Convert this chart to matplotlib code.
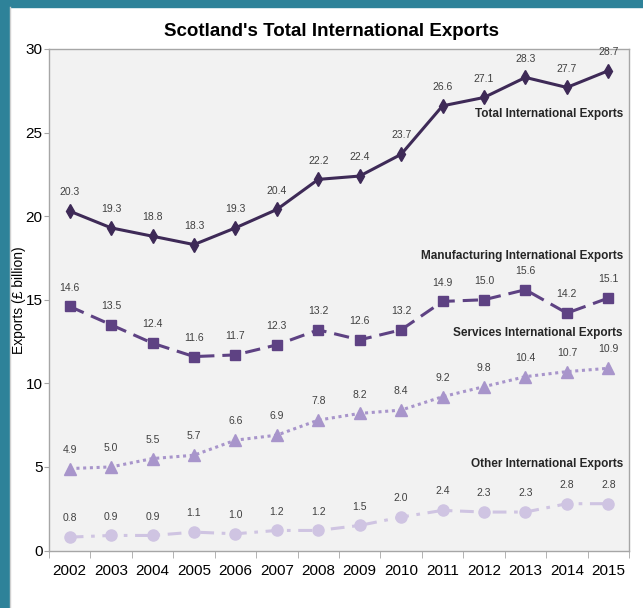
import matplotlib
matplotlib.use('Agg')
import matplotlib.pyplot as plt
import matplotlib.patches as mpatches

plt.rcParams['font.family'] = ['Liberation Sans Narrow', 'DejaVu Sans Condensed',
                               'Liberation Sans', 'DejaVu Sans']

years = ['2002', '2003', '2004', '2005', '2006', '2007', '2008',
         '2009', '2010', '2011', '2012', '2013', '2014', '2015']
total = [20.3, 19.3, 18.8, 18.3, 19.3, 20.4, 22.2, 22.4, 23.7, 26.6, 27.1, 28.3, 27.7, 28.7]
manufacturing = [14.6, 13.5, 12.4, 11.6, 11.7, 12.3, 13.2, 12.6, 13.2, 14.9, 15.0, 15.6, 14.2, 15.1]
services = [4.9, 5.0, 5.5, 5.7, 6.6, 6.9, 7.8, 8.2, 8.4, 9.2, 9.8, 10.4, 10.7, 10.9]
other = [0.8, 0.9, 0.9, 1.1, 1.0, 1.2, 1.2, 1.5, 2.0, 2.4, 2.3, 2.3, 2.8, 2.8]

series_names = ['Total International Exports', 'Manufacturing International Exports',
                'Services International Exports', 'Other International Exports']
# y position of each series name, in data units
name_y = [26.1, 17.6, 13.0, 5.2]

fig = plt.figure(figsize=(6.43, 6.08), dpi=100)
fig.patch.set_facecolor('white')

# teal frame along the top and left edge
fig.patches.append(mpatches.Rectangle((0, 0), 9 / 643, 1, transform=fig.transFigure,
                                      color='#2E8299', zorder=0))
fig.patches.append(mpatches.Rectangle((0, 1 - 7 / 608), 1, 7 / 608, transform=fig.transFigure,
                                      color='#2E8299', zorder=0))
fig.add_artist(plt.Line2D([10 / 643, 10 / 643], [0, 1 - 7 / 608], transform=fig.transFigure,
                          color='#D0D0D0', lw=1))

ax = fig.add_axes([49 / 643, 1 - 550.5 / 608, 580 / 643, 501.5 / 608])
ax.set_facecolor('#F2F2F2')

x = list(range(len(years)))
styles = [
    dict(data=total, color='#3E2A57', marker='d', ls='-', ms=7, dashes=None),
    dict(data=manufacturing, color='#5E4283', marker='s', ls='--', ms=7, dashes=(5, 2.6)),
    dict(data=services, color='#A895CB', marker='^', ls=':', ms=8, dashes=(1, 1.2)),
    dict(data=other, color='#CFC4E2', marker='o', ls='-.', ms=8, dashes=(4.5, 2.5, 1.2, 2.5)),
]

for s, name, ny in zip(styles, series_names, name_y):
    line, = ax.plot(x, s['data'], color=s['color'], marker=s['marker'], markersize=s['ms'],
                    linewidth=2.2, linestyle=s['ls'], zorder=3)
    if s['dashes'] is not None:
        line.set_dashes(s['dashes'])
    for xi, v in zip(x, s['data']):
        ax.annotate(f'{v:.1f}', (xi, v), textcoords='offset points', xytext=(0, 10),
                    ha='center', va='bottom', fontsize=7.5, color='#404040')
    ax.text(13.35, ny, name, ha='right', va='center', fontsize=8.5,
            fontweight='bold', color='#262626')

ax.set_xlim(-0.5, 13.5)
ax.set_ylim(0, 30)
ax.set_yticks([0, 5, 10, 15, 20, 25, 30])
ax.set_xticks(x)
ax.set_xticklabels(years)
ax.set_xticks([i + 0.5 for i in range(-1, 14)], minor=True)
ax.tick_params(axis='x', which='major', length=0, pad=10, labelsize=11, labelcolor='black')
ax.tick_params(axis='x', which='minor', length=5, color='#A6A6A6', direction='out')
ax.tick_params(axis='y', length=3.5, color='#A6A6A6', labelsize=11, pad=1)
for sp in ax.spines.values():
    sp.set_color('#A6A6A6')
    sp.set_linewidth(1)

ax.set_ylabel('Exports (£ billion)', fontsize=10, va='center')
ax.yaxis.set_label_coords(-0.051, 0.5)
fig.text(332 / 643, 1 - 32 / 608, "Scotland's Total International Exports",
         ha='center', va='center', fontsize=13.5, fontweight='bold')

plt.savefig('out.png', dpi=100)
plt.close()
